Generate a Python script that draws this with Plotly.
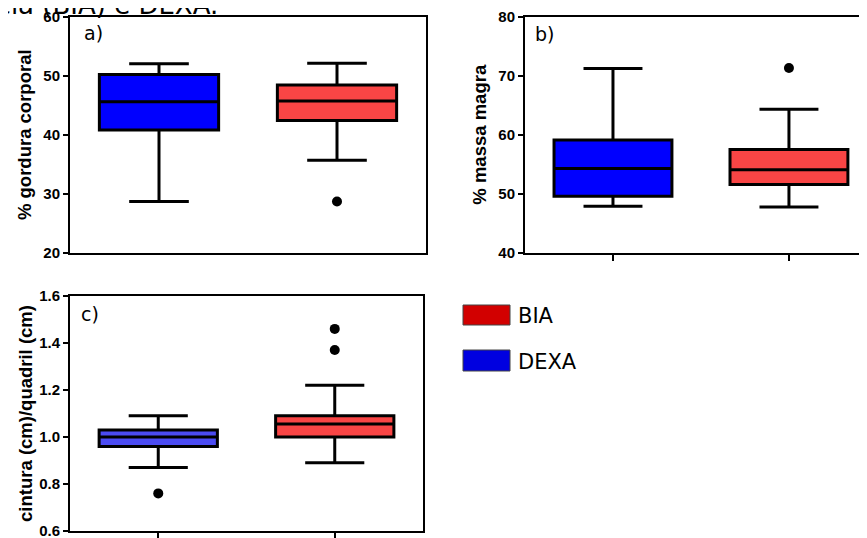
import plotly.graph_objects as go

# ---------------- data ----------------
groups = ["DEXA", "BIA"]

# a) % gordura corporal
a_low = [28.7, 35.7]
a_q1 = [40.8, 42.4]
a_med = [45.6, 45.7]
a_q3 = [50.2, 48.4]
a_high = [52.0, 52.1]
a_out_x = ["BIA"]
a_out_y = [28.7]

# b) % massa magra
b_low = [47.9, 47.8]
b_q1 = [49.6, 51.6]
b_med = [54.3, 54.1]
b_q3 = [59.1, 57.5]
b_high = [71.2, 64.3]
b_out_x = ["BIA"]
b_out_y = [71.3]

# c) cintura/quadril
c_low = [0.87, 0.89]
c_q1 = [0.96, 1.00]
c_med = [1.00, 1.055]
c_q3 = [1.03, 1.09]
c_high = [1.09, 1.22]
c_out_x = ["DEXA", "BIA", "BIA"]
c_out_y = [0.76, 1.37, 1.46]

legend_labels = ["BIA", "DEXA"]

W, H = 867, 538
OFF = 8  # page body margin


def px(x):
    return (x - OFF) / W


def py(y):
    return 1 - (y - OFF) / H


blue = "#0000FF"
blue_c = "#4B4BF2"
red = "#F94545"
colors_ab = [blue, red]
colors_c = [blue_c, red]

fig = go.Figure()


def add_boxes(lo, q1, med, q3, hi, cols, xa, ya):
    for i, g in enumerate(groups):
        fig.add_trace(go.Box(
            x=[g], q1=[q1[i]], median=[med[i]], q3=[q3[i]],
            lowerfence=[lo[i]], upperfence=[hi[i]],
            fillcolor=cols[i], line=dict(color="black", width=3),
            width=0.67, whiskerwidth=0.5, boxpoints=False,
            xaxis=xa, yaxis=ya, showlegend=False, hoverinfo="skip"))


def add_out(xs, ys, xa, ya):
    fig.add_trace(go.Scatter(
        x=xs, y=ys, mode="markers",
        marker=dict(color="black", size=10),
        xaxis=xa, yaxis=ya, showlegend=False, hoverinfo="skip"))


add_boxes(a_low, a_q1, a_med, a_q3, a_high, colors_ab, "x", "y")
add_out(a_out_x, a_out_y, "x", "y")
add_boxes(b_low, b_q1, b_med, b_q3, b_high, colors_ab, "x2", "y2")
add_out(b_out_x, b_out_y, "x2", "y2")
add_boxes(c_low, c_q1, c_med, c_q3, c_high, colors_c, "x3", "y3")
add_out(c_out_x, c_out_y, "x3", "y3")

tickfont = dict(family="Liberation Sans", size=15, color="black", weight="bold")
titlefont = dict(family="Liberation Sans", size=18.5, color="black", weight="bold")


def yax(domain, rng, dtick, title, anchor, mirror, standoff, fmt=None):
    d = dict(domain=domain, range=rng, dtick=dtick, tick0=rng[0],
             showline=True, linecolor="black", linewidth=2,
             mirror=mirror, ticks="outside", ticklen=5, tickwidth=2,
             tickcolor="black", showgrid=False, zeroline=False,
             tickfont=tickfont, anchor=anchor, automargin=False,
             ticklabeloverflow="allow",
             title=dict(text=title, font=titlefont, standoff=standoff))
    if fmt:
        d["tickformat"] = fmt
    return d


def xax(domain, rng, anchor, showticks, mirror=True):
    return dict(domain=domain, range=rng, type="category",
                categoryorder="array", categoryarray=groups,
                showline=True, linecolor="black", linewidth=2, mirror=mirror,
                ticks="outside" if showticks else "", ticklen=6, tickwidth=2,
                tickcolor="black", showticklabels=False, showgrid=False,
                zeroline=False, anchor=anchor, automargin=False)


top_ab = py(16.5)
bot_ab = py(253)
top_c = py(296)
bot_c = py(531)

fig.update_layout(
    width=W, height=H,
    margin=dict(l=0, r=0, t=0, b=0, autoexpand=False),
    paper_bgcolor="white", plot_bgcolor="white",
    xaxis=xax([px(70), px(426)], [-0.5, 1.5], "y", False),
    yaxis=yax([bot_ab, top_ab], [20, 60], 10, "% gordura corporal", "x", True, 7),
    xaxis2=xax([px(525), 1.0], [-0.5, 1.489], "y2", True),
    yaxis2=yax([bot_ab, top_ab], [40, 80], 10, "% massa magra", "x2", False, 7),
    xaxis3=xax([px(70), px(423)], [-0.5, 1.5], "y3", True),
    yaxis3=yax([bot_c, top_c], [0.6, 1.6], 0.2, "cintura (cm)/quadril (cm)", "x3", True, 2, ".1f"),
    showlegend=False,
)

ann_font = dict(family="DejaVu Sans", size=19, color="black")
anns = [
    dict(text="a)", x=px(82), y=py(33), xanchor="left", yanchor="middle"),
    dict(text="b)", x=px(533), y=py(34), xanchor="left", yanchor="middle"),
    dict(text="c)", x=px(79), y=py(314), xanchor="left", yanchor="middle"),
    dict(text="bioimpedância (BIA) e DEXA.", x=px(220), y=py(22),
         xanchor="right", yanchor="bottom",
         font=dict(family="DejaVu Sans", size=26, color="black")),
]
# legend
leg_rows = [(legend_labels[0], "#D20000", 305, 325), (legend_labels[1], "#0000E0", 350, 371)]
shapes = []
for lab, col, y0, y1 in leg_rows:
    shapes.append(dict(type="rect", xref="paper", yref="paper",
                       x0=px(463), x1=px(510), y0=py(y1), y1=py(y0),
                       fillcolor=col, line=dict(color="#444", width=1)))
    anns.append(dict(text=lab, x=px(516), y=py((y0 + y1) / 2 + 1),
                     xanchor="left", yanchor="middle",
                     font=dict(family="DejaVu Sans", size=21, color="black")))

for a in anns:
    a.setdefault("font", ann_font)
    a.update(xref="paper", yref="paper", showarrow=False)

fig.update_layout(annotations=anns, shapes=shapes)

fig.write_html("out.html")
